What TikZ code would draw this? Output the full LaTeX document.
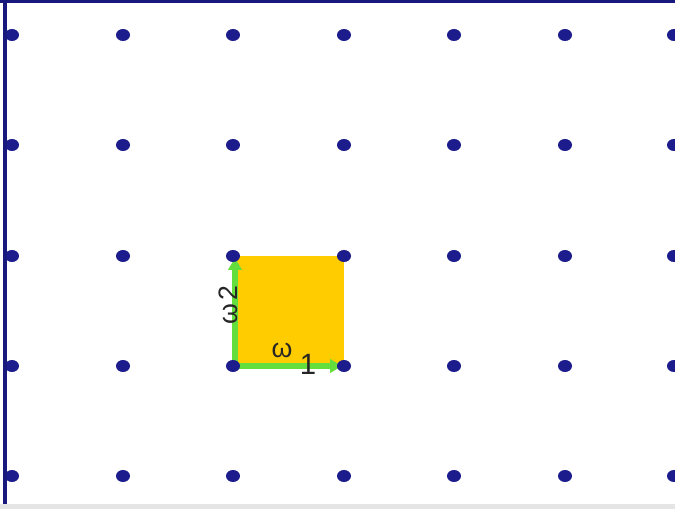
\documentclass[tikz,border=0pt]{standalone}
\usepackage{fontspec}
\setmainfont{Liberation Sans}
\usetikzlibrary{arrows.meta,shapes.geometric}
\definecolor{dotblue}{RGB}{28,28,140}
\definecolor{frameblue}{RGB}{25,25,125}
\definecolor{cellyellow}{RGB}{255,204,0}
\definecolor{vecgreen}{RGB}{100,222,60}
\tikzset{
  latticedot/.style={ellipse, fill=dotblue, inner sep=0pt, minimum width=10.5pt, minimum height=9pt},
  basisvec/.style={draw=vecgreen, line width=4pt, -{Triangle[length=9pt,width=10pt]}},
  veclabel/.style={inner sep=0pt, font=\fontsize{20}{20}\selectfont, text=black!85}
}
\begin{document}
\begin{tikzpicture}[x=0.75pt,y=-0.75pt]
\useasboundingbox (0,0) rectangle (675,509);
\fill[white] (0,0) rectangle (675,509);
% unit cell
\fill[cellyellow] (233,256) rectangle (344,366);
% basis vectors
\coordinate (o) at (235,366);
\coordinate (e1) at (342,366);
\coordinate (e2) at (235,258);
\draw[basisvec] (o) -- (e1);
\draw[basisvec] (o) -- (e2);
% lattice dots
\begin{scope}
\clip (7,0) rectangle (675,509);
\foreach \i/\x in {0/12,1/123,2/233,3/344,4/454,5/565,6/674}{
  \foreach \j/\y in {0/35,1/145,2/256,3/366,4/476}{
    \node[latticedot] (d\i\j) at (\x,\y) {};
  }
}
\end{scope}
% labels
\node[veclabel, rotate=90] (w2) at (228,305) {ω\hspace{2pt}2};
\node[veclabel] (w1a) at (282,350) {ω};
\node[veclabel, font=\fontsize{22}{22}\selectfont] (w1b) at (308,364) {1};
% frame
\fill[frameblue] (3,0) rectangle (7,509);
\fill[frameblue] (0,0) rectangle (675,3);
\fill[black!10] (0,504) rectangle (675,509);
\end{tikzpicture}
\end{document}
